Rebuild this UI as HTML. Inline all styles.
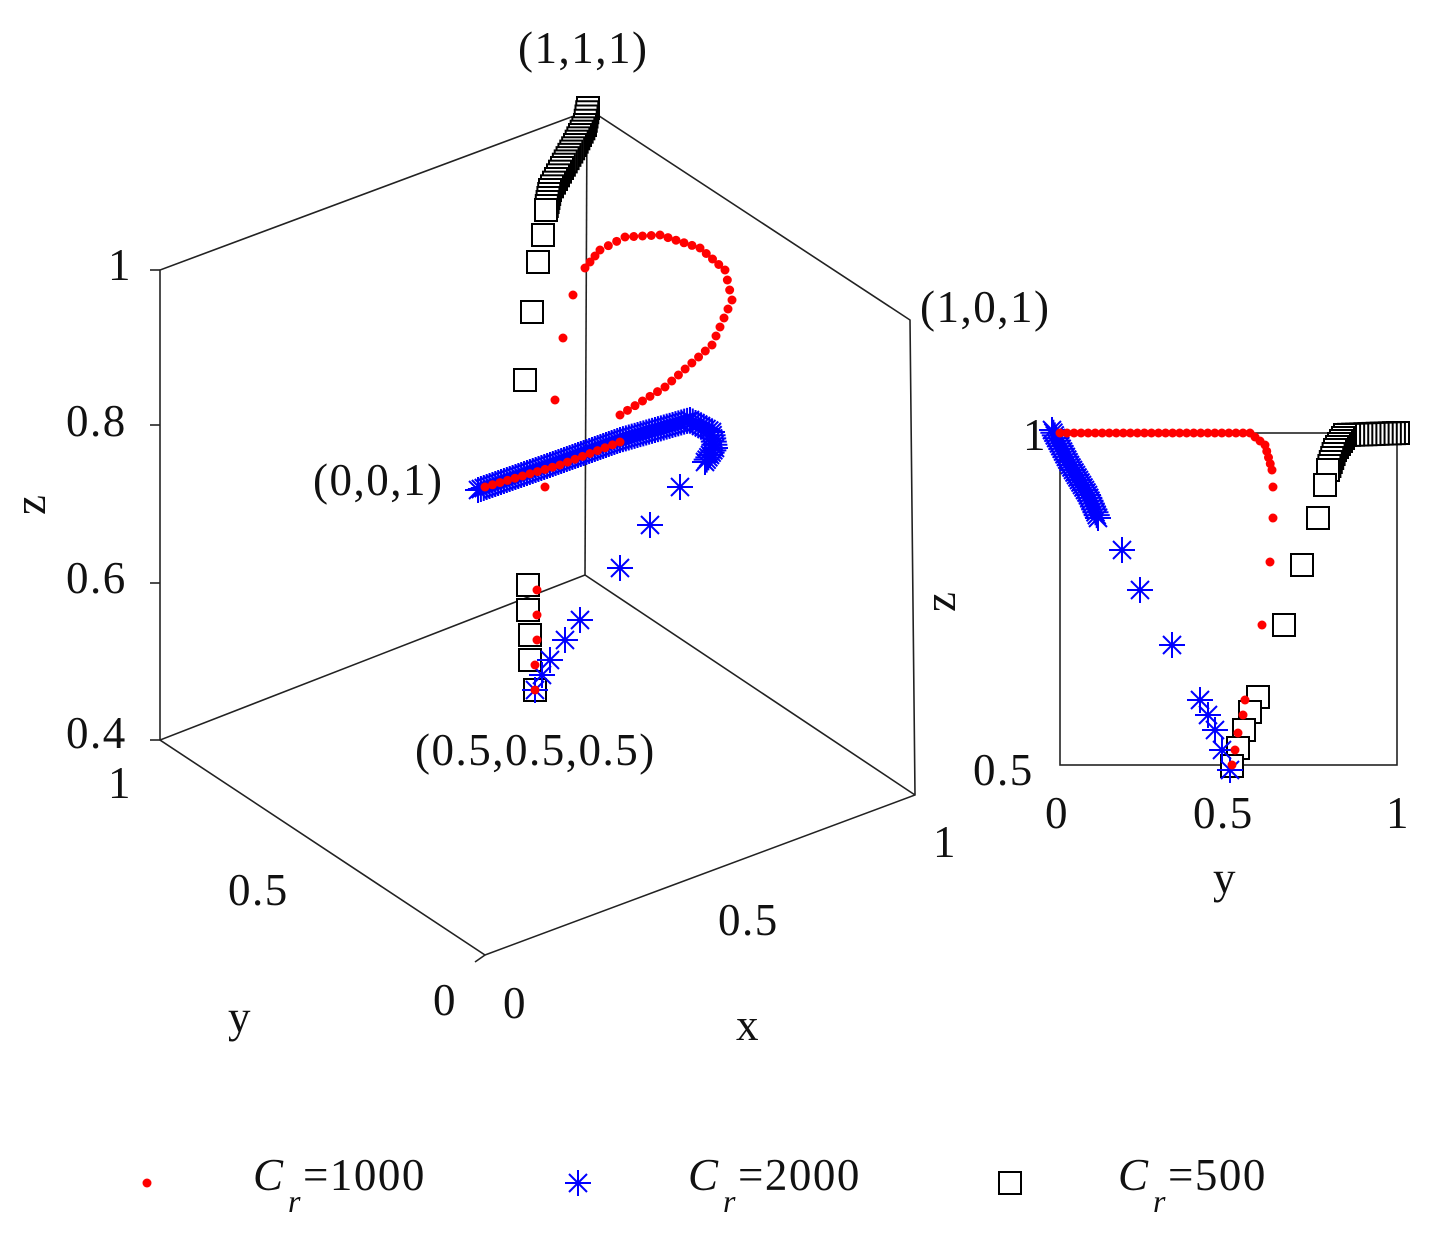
<!DOCTYPE html>
<html><head><meta charset="utf-8"><style>
html,body{margin:0;padding:0;background:#fff}
svg{display:block}
text{font-family:"Liberation Serif",serif;fill:#111;letter-spacing:1.5px}
</style></head><body>
<svg id="s" width="1432" height="1242" viewBox="0 0 1432 1242" xmlns="http://www.w3.org/2000/svg">
<g stroke="#222" stroke-width="1.6" fill="none">
<polyline points="160,740 160,270 590,110 910,320 915,795 485,955 160,740 585,575 915,795"/>
<line x1="587" y1="112" x2="585" y2="575"/>
<line x1="160" y1="270" x2="150" y2="270"/><line x1="160" y1="425" x2="150" y2="425"/><line x1="160" y1="583" x2="150" y2="583"/><line x1="160" y1="740" x2="150" y2="740"/>
<line x1="485" y1="955" x2="475" y2="962"/>
<rect x="1060" y="433" width="337" height="332"/>
</g>
<g font-size="45">
<text x="518" y="63">(1,1,1)</text>
<text x="920" y="322">(1,0,1)</text>
<text x="313" y="495">(0,0,1)</text>
<text x="415" y="765">(0.5,0.5,0.5)</text>
<text x="108" y="280">1</text>
<text x="66" y="436">0.8</text>
<text x="66" y="593">0.6</text>
<text x="66" y="748">0.4</text>
<text x="108" y="798">1</text>
<text x="228" y="905">0.5</text>
<text x="433" y="1015">0</text>
<text x="228" y="1032">y</text>
<text x="503" y="1018">0</text>
<text x="718" y="935">0.5</text>
<text x="933" y="857">1</text>
<text x="736" y="1040">x</text>
<text transform="translate(45,515) rotate(-90)">z</text>
<text x="1023" y="450">1</text>
<text x="973" y="785">0.5</text>
<text x="1045" y="828">0</text>
<text x="1193" y="828">0.5</text>
<text x="1386" y="828">1</text>
<text x="1213" y="893">y</text>
<text transform="translate(955,612) rotate(-90)">z</text>
<text x="253" y="1190" font-style="italic">C</text><text x="288" y="1212" font-style="italic" font-size="32">r</text><text x="303" y="1190">=1000</text>
<text x="688" y="1190" font-style="italic">C</text><text x="723" y="1212" font-style="italic" font-size="32">r</text><text x="738" y="1190">=2000</text>
<text x="1118" y="1190" font-style="italic">C</text><text x="1153" y="1212" font-style="italic" font-size="32">r</text><text x="1168" y="1190">=500</text>
</g>
<g id="m"></g>
</svg>
<script>
var g=document.getElementById('m'),NS='http://www.w3.org/2000/svg';
function dot(x,y){var c=document.createElementNS(NS,'circle');c.setAttribute('cx',x);c.setAttribute('cy',y);c.setAttribute('r',4.5);c.setAttribute('fill','#f00');g.appendChild(c);}
function star(x,y){var p=document.createElementNS(NS,'path');var r=13;p.setAttribute('d','M'+(x-r)+' '+y+'h'+2*r+'M'+x+' '+(y-r)+'v'+2*r+'M'+(x-9)+' '+(y-9)+'l18 18M'+(x-9)+' '+(y+9)+'l18 -18');p.setAttribute('stroke','#00f');p.setAttribute('stroke-width','2');g.appendChild(p);}
function sq(x,y){var r=document.createElementNS(NS,'rect');r.setAttribute('x',x-11);r.setAttribute('y',y-11);r.setAttribute('width',22);r.setAttribute('height',22);r.setAttribute('fill','#fff');r.setAttribute('stroke','#000');r.setAttribute('stroke-width','2');g.appendChild(r);}
function path(pts,step,f){for(var i=0;i<pts.length-1;i++){var a=pts[i],b=pts[i+1],d=Math.hypot(b[0]-a[0],b[1]-a[1]),n=Math.max(1,Math.round(d/step));for(var k=0;k<n;k++){f(a[0]+(b[0]-a[0])*k/n,a[1]+(b[1]-a[1])*k/n);}}var l=pts[pts.length-1];f(l[0],l[1]);}
function pts(arr,f){arr.forEach(function(p){f(p[0],p[1]);});}
path([[588,108],[585,125],[575,145],[562,168],[550,190],[546,210]],4,sq);
pts([[543,235],[538,262],[532,312],[525,380],[528,585],[528,610],[530,635],[530,660],[535,690]],sq);
path([[1398,433],[1345,435],[1335,450],[1328,470]],4,sq);
pts([[1325,485],[1318,518],[1302,565],[1284,625],[1258,697],[1250,712],[1244,730],[1238,748],[1232,766]],sq);
path([[478,490],[550,465],[620,440],[690,420],[712,432],[715,448],[705,462]],3,star);
pts([[680,487],[650,525],[620,568],[580,620],[565,640],[550,660],[542,675],[535,690]],star);
path([[1052,430],[1070,465],[1088,495],[1098,518]],3,star);
pts([[1122,550],[1140,590],[1172,645],[1200,700],[1208,715],[1215,730],[1222,750],[1230,770]],star);
path([[485,487],[560,465],[620,442]],8,dot);
path([[620,415],[665,387],[712,345],[732,300],[725,270],[700,248],[660,235],[625,237],[600,250],[585,268]],9,dot);
pts([[573,295],[563,338],[555,400],[545,487],[537,590],[537,615],[537,640],[535,665],[535,690]],dot);
path([[1060,433],[1250,433],[1265,445],[1272,470]],7,dot);
pts([[1273,487],[1273,518],[1270,562],[1262,625],[1245,700],[1243,715],[1238,733],[1235,750],[1232,765]],dot);
dot(147,1183);star(578,1183);sq(1010,1183);
</script>
</body></html>
